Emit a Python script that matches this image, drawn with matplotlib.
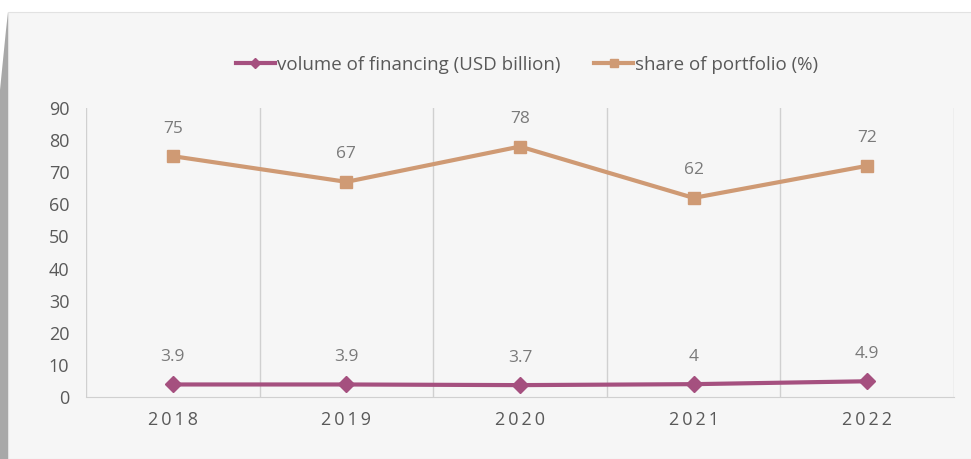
import numpy as np
import matplotlib.pyplot as plt
from matplotlib.patches import Rectangle, Polygon

years = ['2018', '2019', '2020', '2021', '2022']
volume = [3.9, 3.9, 3.7, 4, 4.9]
share = [75, 67, 78, 62, 72]
yticks = [0, 10, 20, 30, 40, 50, 60, 70, 80, 90]

purple = '#a5507f'
tan = '#cf9a74'
txt = '#595959'

plt.rcParams['font.family'] = ['Open Sans', 'DejaVu Sans']

fig = plt.figure(figsize=(9.71, 4.59), dpi=100)
fig.patch.set_facecolor('white')

# panel background and left shadow strip
fig.patches.append(Rectangle((8 / 971, 0), 1, 1 - 12 / 459, transform=fig.transFigure,
                             facecolor='#f6f6f6', edgecolor='#e2e2e2', lw=0.8, zorder=-10))
fig.patches.append(Polygon([(0, 0), (8 / 971, 0), (8 / 971, 1 - 12 / 459), (6 / 971, 1 - 30 / 459), (0, 1 - 90 / 459)],
                           closed=True, transform=fig.transFigure,
                           facecolor='#a8a8a8', edgecolor='none', zorder=-9))

ax = fig.add_axes([86 / 971, 1 - 397 / 459, (954 - 86) / 971, (397 - 108) / 459])
ax.set_facecolor('none')

x = np.arange(len(years))
ax.plot(x, volume, color=purple, lw=3, marker='D', ms=8, label='volume of financing (USD billion)', zorder=3)
ax.plot(x, share, color=tan, lw=3, marker='s', ms=8, label='share of portfolio (%)', zorder=3)

for xi, v in zip(x, volume):
    ax.annotate(f'{v:g}', (xi, v), xytext=(0, 14), textcoords='offset points',
                ha='center', va='bottom', fontsize=12.5, color='#7a7a7a')
for xi, v in zip(x, share):
    ax.annotate(f'{v:g}', (xi, v), xytext=(0, 14), textcoords='offset points',
                ha='center', va='bottom', fontsize=12.5, color='#7a7a7a')

ax.set_xlim(-0.5, len(years) - 0.5)
ax.set_ylim(0, 90)
ax.set_yticks(yticks)
ax.set_xticks(x)
ax.set_xticklabels(['\u2009'.join(y) for y in years])
ax.tick_params(axis='both', length=0, labelsize=13, labelcolor=txt)
ax.tick_params(axis='x', pad=10)
ax.tick_params(axis='y', pad=12)

for b in np.arange(-0.5, len(years), 1.0):
    ax.axvline(b, color='#d0d0d0', lw=1, zorder=1)
for s in ['top', 'left', 'right']:
    ax.spines[s].set_visible(False)
ax.spines['bottom'].set_color('#d0d0d0')

leg = fig.legend(loc='center', bbox_to_anchor=(527 / 971, 1 - 65 / 459), ncol=2, frameon=False,
                 fontsize=13.5, labelcolor=txt, handlelength=2.1, handletextpad=0.1, columnspacing=1.8,
                 markerscale=0.7)

fig.savefig('out.png', dpi=100)
